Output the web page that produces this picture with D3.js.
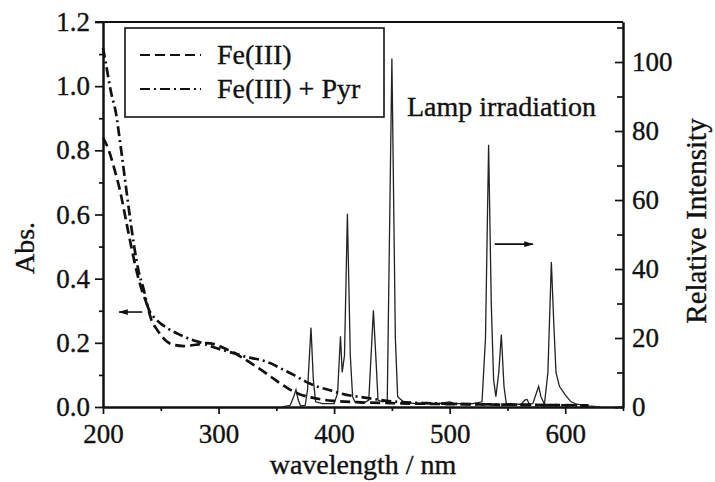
<!DOCTYPE html>
<html>
<head>
<meta charset="utf-8">
<script src="https://cdn.jsdelivr.net/npm/d3@7"></script>
<style>
  body { margin: 0; background: #fff; }
  svg text { font-family: "Liberation Serif", "Times New Roman", serif; fill: #111; stroke: #111; stroke-width: 0.35px; }
</style>
</head>
<body>
<div id="graph"></div>
<script>
var width = 715;
var height = 482;

// absorbance, Fe(III) alone (dashed)
var feWl  = [200, 205, 210, 215, 220, 225, 230, 234, 238, 242, 246, 250, 255, 262, 270, 280, 290, 298, 305, 312, 320, 330, 340, 350, 360, 370, 380, 390, 400, 420, 450, 500, 560, 620];
var feAbs = [0.84, 0.80, 0.74, 0.67, 0.58, 0.49, 0.41, 0.36, 0.32, 0.27, 0.245, 0.225, 0.205, 0.193, 0.19, 0.194, 0.199, 0.194, 0.183, 0.172, 0.155, 0.132, 0.108, 0.082, 0.058, 0.04, 0.03, 0.023, 0.019, 0.015, 0.012, 0.009, 0.007, 0.005];

// absorbance, Fe(III) + Pyr (dash-dot)
var pyrWl  = [200, 203, 207, 211, 215, 219, 223, 227, 231, 235, 239, 244, 250, 256, 265, 275, 285, 295, 305, 315, 325, 335, 345, 355, 365, 375, 385, 395, 405, 415, 425, 440, 455, 480, 520, 580, 620];
var pyrAbs = [1.12, 1.06, 0.98, 0.92, 0.82, 0.71, 0.60, 0.50, 0.42, 0.37, 0.31, 0.28, 0.26, 0.245, 0.228, 0.212, 0.20, 0.187, 0.176, 0.166, 0.155, 0.148, 0.136, 0.118, 0.10, 0.08, 0.064, 0.054, 0.043, 0.035, 0.03, 0.022, 0.016, 0.012, 0.009, 0.006, 0.005];

// lamp emission spectrum (relative intensity)
var lampWl  = [355, 362, 365, 367, 369, 371, 375, 377, 380, 382, 384, 390, 400, 403, 405.5, 407, 409, 411.5, 414, 416, 418, 425, 430, 434, 436.5, 438, 442, 446, 450, 453, 455, 460, 470, 490, 500, 505, 520, 528, 531, 533.7, 536, 538, 540, 542.5, 544.7, 547, 549, 555, 562, 565, 567, 569, 572, 575, 577, 579, 582, 585, 588, 590, 592, 595, 600, 605, 610, 620, 630];
var lampInt = [0, 0.5, 3, 5, 2, 0.3, 0.5, 5, 23, 8, 1.5, 1, 1, 4, 20.5, 10, 15, 56, 15, 3, 1.5, 1, 2, 28, 12, 2, 1.5, 2, 101, 20, 3, 1.5, 1, 1, 1.5, 1, 1, 1.5, 20, 76, 30, 8, 3, 10, 21, 6, 1, 0.8, 0.8, 2, 2.2, 0.8, 1, 4, 6, 3, 0.8, 10, 42, 25, 10, 6, 3.5, 1.5, 0.8, 0.3, 0];

var absTicks = [0, 0.2, 0.4, 0.6, 0.8, 1.0, 1.2];
var absMinor = [0.1, 0.3, 0.5, 0.7, 0.9, 1.1];
var wlTicks = [200, 300, 400, 500, 600];
var wlMinor = [250, 350, 450, 550, 650];
var intTicks = [0, 20, 40, 60, 80, 100];
var intMinor = [10, 30, 50, 70, 90, 110];

var legendLabels = ['Fe(III)', 'Fe(III) + Pyr'];
var legendDash = ['10,5', '10,4,2,4'];

var svg = d3.select('#graph').append('svg')
  .attr('width', width).attr('height', height);

svg.append('rect').attr('width', width).attr('height', height).attr('fill', '#fff');

var x = d3.scaleLinear().domain([200, 650]).range([103, 623]);
var yL = d3.scaleLinear().domain([0, 1.2]).range([407, 22]);
var yR = d3.scaleLinear().domain([0, 111.6]).range([407, 22]);

function styleAxis(g, size) {
  g.selectAll('path.domain').attr('stroke', '#111').attr('stroke-width', 2);
  g.selectAll('.tick line').attr('stroke', '#111').attr('stroke-width', 1.7);
  g.selectAll('.tick text').attr('font-size', size).attr('fill', '#111')
    .attr('font-family', '"Liberation Serif", "Times New Roman", serif');
}

// minor ticks first, then majors with labels
svg.append('g').attr('transform', 'translate(' + x.range()[0] + ',0)')
  .call(d3.axisLeft(yL).tickValues(absMinor).tickSize(4).tickFormat('').tickSizeOuter(0))
  .call(styleAxis, 27);
svg.append('g').attr('transform', 'translate(' + x.range()[0] + ',0)')
  .call(d3.axisLeft(yL).tickValues(absTicks).tickSize(8).tickPadding(5).tickFormat(d3.format('.1f')).tickSizeOuter(0))
  .call(styleAxis, 27);

svg.append('g').attr('transform', 'translate(0,' + yL(0) + ')')
  .call(d3.axisBottom(x).tickValues(wlMinor).tickSize(4).tickFormat('').tickSizeOuter(0))
  .call(styleAxis, 27);
svg.append('g').attr('transform', 'translate(0,' + yL(0) + ')')
  .call(d3.axisBottom(x).tickValues(wlTicks).tickSize(7).tickPadding(10).tickFormat(d3.format('d')).tickSizeOuter(0))
  .call(styleAxis, 27);

svg.append('g').attr('transform', 'translate(' + x.range()[1] + ',0)')
  .call(d3.axisRight(yR).tickValues(intMinor).tickSize(-6).tickFormat('').tickSizeOuter(0))
  .call(styleAxis, 27);
svg.append('g').attr('transform', 'translate(' + x.range()[1] + ',0)')
  .call(d3.axisRight(yR).tickValues(intTicks).tickSize(-8).tickPadding(9).tickFormat(d3.format('d')).tickSizeOuter(0))
  .call(styleAxis, 27);

// top frame line
svg.append('line')
  .attr('x1', x(200) - 8).attr('x2', x(650))
  .attr('y1', yL(1.2)).attr('y2', yL(1.2))
  .attr('stroke', '#111').attr('stroke-width', 2);

// lamp spectrum
var lampLine = d3.line()
  .x(function(d, i){ return x(lampWl[i]); })
  .y(function(d){ return yR(d); });
svg.append('path').datum(lampInt)
  .attr('d', lampLine)
  .attr('fill', 'none').attr('stroke', '#222').attr('stroke-width', 1.3);

// absorption spectra
var feLine = d3.line().curve(d3.curveMonotoneX)
  .x(function(d, i){ return x(feWl[i]); })
  .y(function(d){ return yL(d); });
var pyrLine = d3.line().curve(d3.curveMonotoneX)
  .x(function(d, i){ return x(pyrWl[i]); })
  .y(function(d){ return yL(d); });

svg.append('path').datum(feAbs)
  .attr('d', feLine)
  .attr('fill', 'none').attr('stroke', '#111').attr('stroke-width', 2.7)
  .attr('stroke-dasharray', legendDash[0]);
svg.append('path').datum(pyrAbs)
  .attr('d', pyrLine)
  .attr('fill', 'none').attr('stroke', '#111').attr('stroke-width', 2.7)
  .attr('stroke-dasharray', legendDash[1]);

// arrow markers
svg.append('defs').append('marker')
  .attr('id', 'arrowHead')
  .attr('viewBox', '0 -5 10 10')
  .attr('refX', 9)
  .attr('refY', 0)
  .attr('markerWidth', 6)
  .attr('markerHeight', 6)
  .attr('markerUnits', 'strokeWidth')
  .attr('orient', 'auto')
  .append('path')
    .attr('d', 'M0,-3 L10,0 L0,3 Z')
    .attr('fill', '#111');

// left arrow -> absorbance axis
svg.append('line')
  .attr('x1', x(234)).attr('y1', yL(0.296))
  .attr('x2', x(214)).attr('y2', yL(0.296))
  .attr('stroke', '#111').attr('stroke-width', 1.6)
  .attr('marker-end', 'url(#arrowHead)');
// right arrow -> intensity axis
svg.append('line')
  .attr('x1', x(539)).attr('y1', yR(47.2))
  .attr('x2', x(572)).attr('y2', yR(47.2))
  .attr('stroke', '#111').attr('stroke-width', 1.6)
  .attr('marker-end', 'url(#arrowHead)');

// legend
var legend = svg.append('g').attr('transform', 'translate(125,28)');
legend.append('rect')
  .attr('width', 259).attr('height', 89)
  .attr('fill', '#fff').attr('stroke', '#111').attr('stroke-width', 1.6);
var items = legend.selectAll('g.item')
  .data(legendLabels)
  .enter().append('g')
  .attr('class', 'item')
  .attr('transform', function(d, i){ return 'translate(0,' + (27 + i * 34) + ')'; });
items.append('line')
  .attr('x1', 15).attr('x2', 76)
  .attr('y1', 0).attr('y2', 0)
  .attr('stroke', '#111').attr('stroke-width', 2.2)
  .attr('stroke-dasharray', function(d, i){ return legendDash[i]; });
items.append('text')
  .attr('x', 92).attr('y', 9)
  .attr('font-size', 28)
  .text(function(d){ return d; });

// lamp label
svg.append('text')
  .attr('x', 407).attr('y', 116)
  .attr('font-size', 28)
  .text('Lamp irradiation');

// axis titles
svg.append('text')
  .attr('transform', 'translate(34,248) rotate(-90)')
  .attr('text-anchor', 'middle')
  .attr('font-size', 28)
  .text('Abs.');
svg.append('text')
  .attr('transform', 'translate(706,221) rotate(-90)')
  .attr('text-anchor', 'middle')
  .attr('font-size', 29)
  .text('Relative Intensity');
svg.append('text')
  .attr('x', 363).attr('y', 474)
  .attr('text-anchor', 'middle')
  .attr('font-size', 28)
  .text('wavelength / nm');
</script>
</body>
</html>
